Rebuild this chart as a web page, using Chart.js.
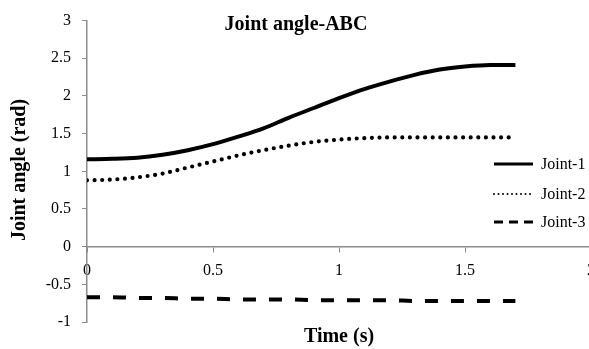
<!DOCTYPE html>
<html>
<head>
<meta charset="utf-8">
<script src="https://cdn.jsdelivr.net/npm/chart.js@4/dist/chart.umd.min.js"></script>
<style>
  html, body { margin: 0; padding: 0; background: #fff; overflow: hidden; }
  #wrap { width: 600px; height: 349px; }
</style>
</head>
<body>
<div id="wrap"><canvas id="grafico" width="600" height="349"></canvas></div>
<script>
const tiempos = [0, 0.1, 0.2, 0.3, 0.4, 0.5, 0.6, 0.7, 0.8, 0.9, 1.0, 1.1, 1.2, 1.3, 1.4, 1.5, 1.6, 1.7];
const joint1 = [1.16, 1.165, 1.18, 1.22, 1.28, 1.36, 1.46, 1.57, 1.71, 1.84, 1.97, 2.09, 2.19, 2.28, 2.35, 2.39, 2.41, 2.41];
const joint2 = [0.88, 0.89, 0.92, 0.97, 1.05, 1.13, 1.21, 1.28, 1.34, 1.39, 1.42, 1.44, 1.45, 1.45, 1.45, 1.45, 1.45, 1.45];
const joint3 = [-0.67, -0.67, -0.68, -0.68, -0.69, -0.69, -0.70, -0.70, -0.70, -0.71, -0.71, -0.71, -0.71, -0.72, -0.72, -0.72, -0.72, -0.72];
const nombres = ['Joint-1', 'Joint-2', 'Joint-3'];
const titulo = 'Joint angle-ABC';
const tituloX = 'Time (s)';
const tituloY = 'Joint angle (rad)';

const serie = vals => tiempos.map((t, i) => ({ x: t, y: vals[i] }));
const gris = '#8c8c8c';
const fuente = '"Liberation Serif", "Times New Roman", serif';

const estilos = [
  { borderWidth: 4, borderDash: [], borderCapStyle: 'butt' },
  { borderWidth: 4.2, borderDash: [0, 7.6], borderCapStyle: 'round' },
  { borderWidth: 4, borderDash: [13, 13], borderCapStyle: 'butt' }
];

const textos = {
  id: 'textos',
  afterDraw(chart) {
    const ctx = chart.ctx;
    ctx.save();
    ctx.fillStyle = '#000';
    ctx.textBaseline = 'middle';
    ctx.font = 'bold 20px ' + fuente;
    ctx.textAlign = 'center';
    ctx.fillText(titulo, 296, 25);
    ctx.fillText(tituloX, 339, 337);
    ctx.save();
    ctx.translate(20, 170);
    ctx.rotate(-Math.PI / 2);
    ctx.fillText(tituloY, 0, 0);
    ctx.restore();

    // leyenda
    const ys = [164, 194, 222];
    ctx.font = '16px ' + fuente;
    ctx.textAlign = 'left';
    nombres.forEach((n, i) => {
      ctx.beginPath();
      ctx.strokeStyle = '#000';
      ctx.lineWidth = i === 1 ? 2 : 3;
      ctx.lineCap = i === 1 ? 'round' : 'butt';
      ctx.setLineDash(i === 1 ? [0, 4.5] : i === 2 ? [9, 6] : []);
      ctx.moveTo(494, ys[i]);
      ctx.lineTo(533, ys[i]);
      ctx.stroke();
      ctx.setLineDash([]);
      ctx.fillText(n, 541, ys[i] + 1);
    });
    ctx.restore();
  }
};

const etiqueta = v => Number(v).toString();

new Chart(document.getElementById('grafico'), {
  type: 'line',
  data: {
    datasets: [joint1, joint2, joint3].map((v, i) => ({
      label: nombres[i],
      data: serie(v),
      borderColor: '#000',
      backgroundColor: '#000',
      pointRadius: 0,
      cubicInterpolationMode: 'monotone',
      ...estilos[i]
    }))
  },
  options: {
    responsive: false,
    animation: false,
    layout: { padding: { top: 16, bottom: 27, right: 9, left: 0 } },
    plugins: { legend: { display: false }, tooltip: { enabled: false } },
    scales: {
      x: {
        type: 'linear',
        position: { y: 0 },
        min: 0, max: 2,
        afterFit: s => { s.paddingLeft = 0; s.paddingRight = 0; },
        ticks: { stepSize: 0.5, callback: etiqueta, color: '#000', font: { family: fuente, size: 16 }, padding: 10, maxRotation: 0 },
        grid: { drawOnChartArea: false, color: gris, tickLength: 5 },
        border: { color: gris, width: 1.5 }
      },
      y: {
        min: -1, max: 3,
        afterFit: s => { s.width = 87; },
        ticks: { stepSize: 0.5, callback: etiqueta, color: '#000', font: { family: fuente, size: 16 }, padding: 11 },
        grid: { drawOnChartArea: false, color: gris, tickLength: 5 },
        border: { color: gris, width: 1.5 }
      }
    }
  },
  plugins: [textos]
});
</script>
</body>
</html>
